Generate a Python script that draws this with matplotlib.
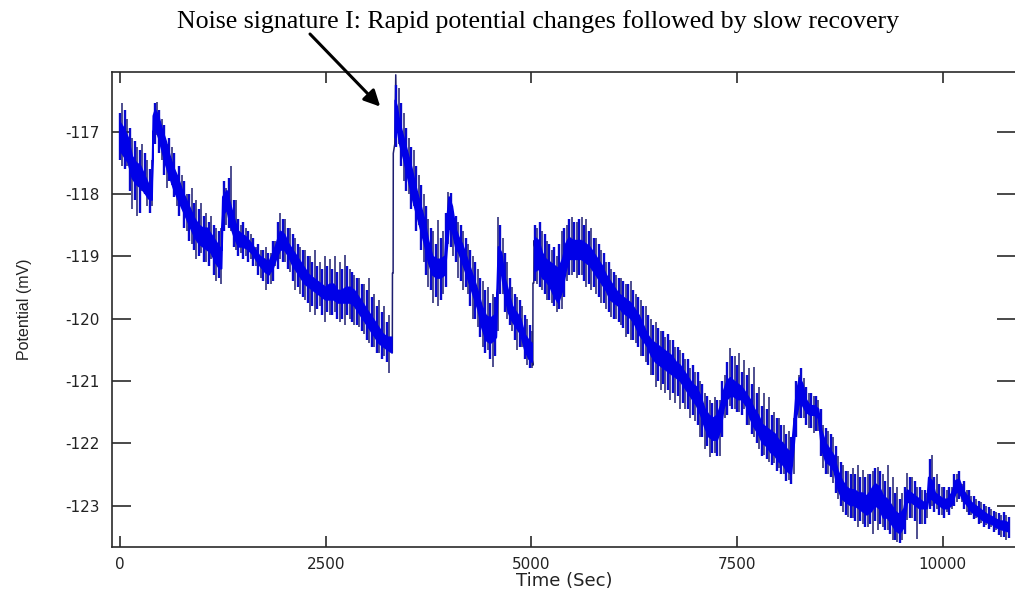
import numpy as np
import matplotlib
matplotlib.use("Agg")
import matplotlib.pyplot as plt

plt.rcParams["axes.unicode_minus"] = False

# ---------------------------------------------------------------------------
# Potential record: dense core band (knots) + individual noise excursions
# ---------------------------------------------------------------------------
band_t = [0, 50, 100, 150, 200, 250, 300, 350, 390, 405, 430, 470, 510, 560, 610,
          660, 710, 760, 810, 860, 910, 960, 1010, 1060, 1110, 1160, 1210, 1235,
          1250, 1300, 1340, 1390, 1440, 1490, 1540, 1600, 1650, 1700, 1760, 1810,
          1860, 1900, 1950, 2000, 2050, 2100, 2150, 2200, 2250, 2300, 2350, 2400,
          2450, 2500, 2550, 2600, 2650, 2700, 2750, 2800, 2850, 2900, 2950, 3000,
          3050, 3100, 3150, 3200, 3250, 3305, 3320, 3345, 3370, 3400, 3450, 3500,
          3550, 3600, 3650, 3700, 3750, 3800, 3850, 3900, 3950, 3975, 4000, 4040,
          4080, 4120, 4160, 4200, 4250, 4300, 4350, 4400, 4450, 4500, 4550, 4575,
          4600, 4640, 4680, 4720, 4770, 4820, 4870, 4920, 4970, 5010, 5025, 5045,
          5090, 5135, 5180, 5230, 5280, 5330, 5380, 5420, 5460, 5510, 5560, 5610,
          5660, 5710, 5760, 5810, 5860, 5910, 5960, 6010, 6060, 6110, 6160, 6210,
          6260, 6310, 6360, 6410, 6460, 6510, 6560, 6610, 6660, 6710, 6760, 6810,
          6860, 6910, 6960, 7010, 7060, 7110, 7160, 7210, 7260, 7300, 7340, 7380,
          7420, 7460, 7510, 7560, 7610, 7660, 7710, 7760, 7810, 7860, 7910, 7960,
          8010, 8060, 8110, 8160, 8190, 8220, 8260, 8300, 8340, 8390, 8440, 8490,
          8530, 8580, 8630, 8680, 8730, 8780, 8830, 8880, 8930, 8980, 9030, 9080,
          9130, 9180, 9230, 9280, 9330, 9380, 9430, 9480, 9530, 9570, 9620, 9670,
          9720, 9770, 9810, 9830, 9870, 9910, 9960, 10010, 10060, 10110, 10160,
          10200, 10250, 10300, 10350, 10400, 10450, 10500, 10550, 10600, 10650,
          10700, 10750, 10800]

band_hi = [-116.85, -116.95, -117.10, -117.40, -117.50, -117.55, -117.70, -117.85,
           -117.90, -116.75, -116.65, -116.75, -116.95, -117.15, -117.40, -117.60,
           -117.75, -117.95, -118.10, -118.25, -118.40, -118.50, -118.55, -118.55,
           -118.65, -118.75, -118.85, -118.90, -118.05, -117.95, -118.15, -118.40,
           -118.60, -118.65, -118.70, -118.80, -118.90, -119.00, -119.05, -119.10,
           -118.95, -118.80, -118.60, -118.65, -118.80, -118.90, -119.00, -119.10,
           -119.20, -119.30, -119.35, -119.40, -119.45, -119.50, -119.45, -119.45,
           -119.55, -119.55, -119.50, -119.50, -119.55, -119.65, -119.75, -119.85,
           -119.95, -120.05, -120.15, -120.25, -120.30, -120.30, np.nan, -116.50,
           -116.60, -116.85, -117.10, -117.35, -117.60, -117.90, -118.15, -118.40,
           -118.75, -119.00, -119.05, -119.05, -119.00, -118.40, -118.05, -118.20,
           -118.55, -118.70, -118.80, -118.95, -119.15, -119.35, -119.55, -119.80,
           -119.95, -120.00, -119.95, -119.90, -118.85, -118.95, -119.35, -119.55,
           -119.80, -119.90, -120.00, -120.25, -120.35, -120.40, np.nan, -118.70,
           -118.75, -118.95, -119.05, -119.10, -119.15, -119.20, -119.05, -118.80,
           -118.70, -118.75, -118.75, -118.75, -118.80, -118.85, -118.95, -119.05,
           -119.15, -119.30, -119.40, -119.50, -119.60, -119.65, -119.70, -119.75,
           -119.85, -119.95, -120.10, -120.25, -120.35, -120.40, -120.45, -120.50,
           -120.55, -120.60, -120.70, -120.75, -120.85, -120.95, -121.05, -121.10,
           -121.25, -121.45, -121.55, -121.60, -121.55, -121.40, -121.15, -121.00,
           -120.95, -121.00, -121.05, -121.10, -121.20, -121.30, -121.45, -121.55,
           -121.70, -121.75, -121.80, -121.85, -121.95, -122.00, -122.10, -122.15,
           -121.70, -121.20, -120.95, -121.05, -121.30, -121.40, -121.40, -121.45,
           -121.80, -122.00, -122.10, -122.20, -122.45, -122.60, -122.70, -122.75,
           -122.75, -122.80, -122.80, -122.85, -122.75, -122.65, -122.70, -122.85,
           -122.90, -123.00, -123.10, -123.15, -123.05, -122.75, -122.80, -122.85,
           -122.90, -122.95, -122.95, -122.55, -122.60, -122.80, -122.85, -122.90,
           -122.90, -122.80, -122.60, -122.58, -122.75, -122.85, -122.95, -123.00,
           -123.05, -123.10, -123.15, -123.18, -123.22, -123.25, -123.25, -123.28]

band_lo = [-117.30, -117.40, -117.50, -117.75, -117.85, -117.90, -117.98, -118.08,
           -118.10, -117.00, -116.95, -117.10, -117.30, -117.55, -117.75, -117.95,
           -118.10, -118.25, -118.40, -118.55, -118.70, -118.80, -118.85, -118.90,
           -118.95, -119.10, -119.20, -119.20, -118.35, -118.25, -118.50, -118.70,
           -118.85, -118.85, -118.88, -118.95, -119.05, -119.15, -119.25, -119.30,
           -119.20, -119.05, -118.90, -118.90, -119.00, -119.15, -119.25, -119.35,
           -119.45, -119.50, -119.55, -119.60, -119.65, -119.70, -119.70, -119.70,
           -119.75, -119.75, -119.75, -119.75, -119.80, -119.90, -120.00, -120.10,
           -120.20, -120.30, -120.40, -120.45, -120.50, -120.55, np.nan, -117.10,
           -116.95, -117.20, -117.45, -117.75, -118.05, -118.30, -118.55, -118.80,
           -119.10, -119.30, -119.35, -119.35, -119.30, -118.90, -118.55, -118.60,
           -118.85, -118.95, -119.10, -119.25, -119.45, -119.65, -119.85, -120.15,
           -120.35, -120.40, -120.35, -120.30, -119.20, -119.30, -119.65, -119.90,
           -120.05, -120.15, -120.25, -120.50, -120.65, -120.70, np.nan, -119.25,
           -119.20, -119.35, -119.40, -119.50, -119.65, -119.75, -119.55, -119.25,
           -119.05, -119.05, -119.05, -119.05, -119.10, -119.15, -119.25, -119.35,
           -119.45, -119.55, -119.70, -119.75, -119.80, -119.90, -119.95, -120.00,
           -120.10, -120.25, -120.35, -120.45, -120.60, -120.70, -120.75, -120.80,
           -120.85, -120.90, -120.95, -121.00, -121.10, -121.20, -121.30, -121.40,
           -121.55, -121.75, -121.90, -121.95, -121.95, -121.80, -121.45, -121.30,
           -121.25, -121.25, -121.30, -121.30, -121.40, -121.60, -121.75, -121.85,
           -122.00, -122.05, -122.15, -122.20, -122.30, -122.35, -122.45, -122.50,
           -122.10, -121.60, -121.35, -121.40, -121.50, -121.55, -121.55, -121.60,
           -122.10, -122.30, -122.35, -122.45, -122.75, -122.90, -122.95, -123.00,
           -123.00, -123.05, -123.10, -123.15, -123.10, -123.00, -123.05, -123.20,
           -123.20, -123.30, -123.40, -123.45, -123.35, -122.95, -122.95, -123.00,
           -123.05, -123.05, -123.05, -122.90, -122.90, -122.95, -123.00, -123.05,
           -123.05, -123.00, -122.80, -122.78, -122.92, -123.00, -123.10, -123.15,
           -123.20, -123.25, -123.28, -123.30, -123.35, -123.38, -123.40, -123.42]

# long excursions (thin dark strokes)
spike_t = [30, 90, 150, 210, 270, 330, 390, 450, 510, 570, 630, 690, 750, 810,
           870, 930, 990, 1050, 1110, 1170, 1230, 1290, 1350, 1410, 1470, 1530,
           1590, 1650, 1710, 1770, 1830, 1890, 1950, 2010, 2070, 2130, 2190, 2250,
           2310, 2370, 2430, 2490, 2550, 2610, 2670, 2730, 2790, 2850, 2910, 2970,
           3030, 3090, 3150, 3210, 3270, 3390, 3450, 3510, 3570, 3630, 3690, 3750,
           3810, 3870, 3930, 3990, 4050, 4110, 4170, 4230, 4290, 4350, 4410, 4470,
           4530, 4590, 4650, 4710, 4770, 4830, 4890, 4950, 5010, 5070, 5130, 5190,
           5250, 5310, 5370, 5430, 5490, 5550, 5610, 5670, 5730, 5790, 5850, 5910,
           5970, 6030, 6090, 6150, 6210, 6270, 6330, 6390, 6450, 6510, 6570, 6630,
           6690, 6750, 6810, 6870, 6930, 6990, 7050, 7110, 7170, 7230, 7290, 7350,
           7410, 7470, 7530, 7590, 7650, 7710, 7770, 7830, 7890, 7950, 8010, 8070,
           8130, 8190, 8250, 8310, 8370, 8430, 8490, 8550, 8610, 8670, 8730, 8790,
           8850, 8910, 8970, 9030, 9090, 9150, 9210, 9270, 9330, 9390, 9450, 9510,
           9570, 9630, 9690, 9750, 9810, 9870, 9930, 9990, 10050, 10110, 10170,
           10230, 10290, 10350, 10410, 10470, 10530, 10590, 10650, 10710, 10770]

spike_hi = [-116.55, -116.80, -117.10, -117.25, -117.20, -117.45, -117.45, -116.52,
            -116.80, -117.20, -117.25, -117.70, -117.70, -118.00, -117.90, -118.10,
            -118.15, -118.30, -118.35, -118.55, -118.55, -117.90, -117.55, -118.10,
            -118.50, -118.55, -118.65, -118.85, -118.90, -118.85, -118.95, -118.75,
            -118.30, -118.40, -118.55, -118.70, -118.85, -118.90, -119.00, -118.90,
            -119.10, -119.00, -119.05, -119.00, -119.10, -118.98, -119.20, -119.30,
            -119.35, -119.45, -119.35, -119.60, -119.70, -119.80, -119.95, -116.30,
            -116.70, -117.10, -117.30, -117.70, -118.00, -118.40, -118.60, -118.42,
            -118.60, -117.97, -118.30, -118.45, -118.60, -118.80, -119.00, -119.20,
            -119.40, -119.50, -119.60, -118.37, -118.70, -119.10, -119.50, -119.65,
            -119.80, -120.00, -120.20, -118.55, -118.60, -118.75, -118.90, -119.00,
            -118.60, -118.50, -118.37, -118.45, -118.37, -118.40, -118.55, -118.70,
            -118.90, -119.10, -119.20, -119.30, -119.35, -119.45, -119.40, -119.60,
            -119.70, -119.80, -120.00, -120.05, -120.20, -120.30, -120.35, -120.45,
            -120.50, -120.65, -120.80, -120.85, -121.00, -121.20, -121.30, -121.26,
            -121.30, -120.90, -120.47, -120.60, -120.55, -120.67, -120.80, -120.78,
            -121.10, -121.20, -121.26, -121.50, -121.60, -121.70, -121.80, -121.60,
            -120.90, -120.95, -121.20, -121.25, -121.30, -121.70, -121.80, -121.90,
            -122.20, -122.35, -122.45, -122.40, -122.35, -122.43, -122.50, -122.45,
            -122.38, -122.50, -122.35, -122.55, -122.70, -122.80, -122.48, -122.55,
            -122.70, -122.75, -122.80, -122.19, -122.50, -122.70, -122.75, -122.70,
            -122.50, -122.65, -122.75, -122.85, -122.90, -122.95, -123.00, -123.05,
            -123.10, -123.15, -123.15]

spike_lo = [-117.55, -117.55, -118.25, -118.35, -117.95, -118.20, -118.20, -117.05,
            -117.45, -117.90, -117.85, -118.20, -118.15, -118.60, -118.80, -119.05,
            -118.95, -119.10, -119.05, -119.40, -119.45, -118.50, -118.60, -118.90,
            -118.95, -119.00, -119.05, -119.15, -119.35, -119.55, -119.45, -119.15,
            -119.05, -119.10, -119.25, -119.55, -119.60, -119.70, -119.90, -119.95,
            -119.80, -120.05, -119.95, -119.90, -120.05, -120.10, -120.00, -120.10,
            -120.13, -120.25, -120.40, -120.45, -120.55, -120.60, -120.87, -117.20,
            -117.80, -118.00, -118.20, -118.50, -119.10, -119.50, -119.75, -119.80,
            -119.60, -118.80, -119.00, -119.35, -119.55, -119.60, -120.00, -120.13,
            -120.45, -120.50, -120.77, -120.20, -119.60, -120.00, -120.20, -120.50,
            -120.45, -120.75, -120.80, -119.45, -119.55, -119.70, -119.75, -119.90,
            -119.85, -119.40, -119.30, -119.35, -119.30, -119.50, -119.55, -119.60,
            -119.75, -119.85, -119.97, -120.00, -120.10, -120.30, -120.35, -120.40,
            -120.60, -120.70, -120.90, -121.10, -121.15, -121.20, -121.30, -121.35,
            -121.45, -121.45, -121.60, -121.65, -121.90, -122.10, -122.22, -122.15,
            -122.20, -121.60, -121.40, -121.45, -121.50, -121.45, -121.70, -121.90,
            -122.10, -122.19, -122.30, -122.32, -122.40, -122.50, -122.59, -122.50,
            -121.60, -121.60, -121.75, -121.84, -121.80, -122.40, -122.50, -122.64,
            -122.90, -123.10, -123.19, -123.20, -123.35, -123.30, -123.35, -123.45,
            -123.40, -123.35, -123.40, -123.55, -123.59, -123.55, -123.24, -123.20,
            -123.53, -123.30, -123.20, -123.00, -123.05, -123.15, -123.10, -123.05,
            -122.95, -122.95, -123.10, -123.15, -123.20, -123.28, -123.32, -123.35,
            -123.40, -123.50, -123.56]

# shorter excursions between the long ones
burst_t = [t for t in range(0, 10801, 60) if t != 3300]

burst_hi = [-116.70, -116.65, -116.95, -117.15, -117.30, -117.35, -117.60, -116.55, -116.65, -116.90,
            -117.10, -117.35, -117.55, -117.80, -118.00, -118.15, -118.25, -118.35, -118.45, -118.50,
            -118.60, -117.80, -117.75, -118.10, -118.40, -118.45, -118.60, -118.70, -118.80, -118.90,
            -118.95, -118.75, -118.45, -118.40, -118.55, -118.65, -118.80, -118.90, -119.00, -119.10,
            -119.15, -119.20, -119.15, -119.20, -119.25, -119.20, -119.15, -119.25, -119.35, -119.45,
            -119.55, -119.65, -119.80, -119.90, -120.05, -116.25, -116.55, -116.95, -117.25, -117.55,
            -117.85, -118.20, -118.55, -118.80, -118.70, -118.30, -117.98, -118.35, -118.50, -118.70,
            -118.90, -119.10, -119.35, -119.55, -119.75, -119.65, -118.50, -118.95, -119.35, -119.60,
            -119.70, -119.95, -120.10, -118.50, -118.45, -118.65, -118.80, -118.85, -118.80, -118.55,
            -118.40, -118.45, -118.40, -118.50, -118.60, -118.70, -118.80, -118.95, -119.10, -119.25,
            -119.35, -119.40, -119.45, -119.55, -119.65, -119.80, -119.95, -120.10, -120.15, -120.20,
            -120.25, -120.35, -120.45, -120.55, -120.65, -120.75, -120.85, -121.05, -121.25, -121.35,
            -121.30, -121.00, -120.70, -120.60, -120.75, -120.85, -120.90, -121.05, -121.20, -121.40,
            -121.45, -121.55, -121.60, -121.70, -121.85, -121.90, -121.00, -120.80, -121.10, -121.20,
            -121.25, -121.45, -121.75, -121.85, -122.05, -122.30, -122.45, -122.50, -122.50, -122.55,
            -122.55, -122.50, -122.40, -122.45, -122.60, -122.70, -122.80, -122.90, -122.70, -122.55,
            -122.60, -122.70, -122.75, -122.25, -122.55, -122.65, -122.70, -122.70, -122.50, -122.45,
            -122.60, -122.75, -122.85, -122.92, -122.98, -123.02, -123.08, -123.12, -123.10, -123.18]

burst_lo = [-117.45, -117.60, -117.95, -118.10, -118.30, -118.00, -118.30, -117.20, -117.35, -117.70,
            -117.80, -118.05, -118.35, -118.55, -118.75, -118.90, -119.00, -119.10, -119.15, -119.30,
            -119.35, -118.60, -118.55, -118.85, -119.00, -119.05, -119.10, -119.15, -119.30, -119.40,
            -119.45, -119.40, -119.20, -119.10, -119.20, -119.40, -119.50, -119.65, -119.75, -119.80,
            -119.85, -119.95, -119.90, -119.95, -120.00, -120.00, -119.95, -120.05, -120.10, -120.20,
            -120.35, -120.45, -120.55, -120.65, -120.70, -117.25, -117.55, -117.95, -118.25, -118.60,
            -118.90, -119.30, -119.55, -119.65, -119.70, -119.50, -118.85, -119.10, -119.40, -119.50,
            -119.80, -120.00, -120.30, -120.55, -120.65, -120.60, -119.60, -119.90, -120.10, -120.35,
            -120.45, -120.65, -120.80, -119.40, -119.50, -119.60, -119.70, -119.80, -119.85, -119.65,
            -119.30, -119.25, -119.30, -119.40, -119.45, -119.50, -119.65, -119.75, -119.90, -120.00,
            -120.05, -120.15, -120.25, -120.35, -120.45, -120.60, -120.75, -120.90, -121.00, -121.05,
            -121.15, -121.20, -121.25, -121.35, -121.45, -121.55, -121.70, -121.90, -122.05, -122.15,
            -122.20, -121.90, -121.55, -121.45, -121.50, -121.55, -121.70, -121.85, -122.00, -122.20,
            -122.25, -122.35, -122.45, -122.50, -122.60, -122.65, -121.90, -121.60, -121.70, -121.75,
            -121.80, -122.20, -122.50, -122.55, -122.80, -123.00, -123.15, -123.20, -123.25, -123.25,
            -123.35, -123.30, -123.25, -123.30, -123.40, -123.45, -123.55, -123.60, -123.45, -123.20,
            -123.25, -123.30, -123.30, -123.05, -123.10, -123.15, -123.20, -123.15, -123.00, -122.90,
            -123.05, -123.15, -123.22, -123.30, -123.35, -123.38, -123.42, -123.48, -123.50, -123.52]

# abrupt transitions drawn as a single thin trace
jump1_t = [3300, 3310, 3312, 3320, 3322, 3340, 3352, 3362]
jump1_v = [-120.50, -120.55, -119.27, -119.27, -117.35, -117.20, -116.09, -116.90]
jump2_t = [5005, 5018, 5020, 5030, 5033, 5045]
jump2_v = [-120.60, -120.75, -119.43, -119.43, -118.75, -118.90]

x_ticks = [0, 2500, 5000, 7500, 10000]
y_ticks = [-117, -118, -119, -120, -121, -122, -123]

annotation = "Noise signature I: Rapid potential changes followed by slow recovery"
arrow_tip = (3163, -116.60)

# ---------------------------------------------------------------------------
W, H = 1015, 598
fig = plt.figure(figsize=(W / 100, H / 100), dpi=100)
fig.patch.set_facecolor("white")
ax = fig.add_axes([112 / W, (H - 547.3) / H, (1016 - 112) / W, (547.3 - 71.7) / H])

band_color = "#0000e8"
edge_color = "#1e1e70"

ax.vlines(spike_t, spike_lo, spike_hi, color=edge_color, lw=1.1, zorder=2)
ax.vlines(burst_t, burst_lo, burst_hi, color="#0808d0", lw=1.7, zorder=2.5)
ax.fill_between(band_t, band_lo, band_hi, color=band_color, lw=1.2,
                edgecolor=band_color, zorder=3)
ax.plot(jump1_t, jump1_v, color=edge_color, lw=1.1, zorder=2)
ax.plot(jump2_t, jump2_v, color=edge_color, lw=1.1, zorder=2)

ax.set_xlim(-97, 10891)
ax.set_ylim(-123.67, -116.04)
ax.set_xticks(x_ticks)
ax.set_xticklabels([str(v) for v in x_ticks])
ax.set_yticks(y_ticks)
ax.set_yticklabels([str(v) for v in y_ticks])

for s in ax.spines.values():
    s.set_color("#2a2a2a")
    s.set_linewidth(1.2)

ax.tick_params(axis="x", direction="in", length=8, width=1.2, color="#2a2a2a",
               top=True, bottom=True, labelsize=11, pad=7, labelcolor="#222222")
ax.tick_params(axis="y", direction="in", length=14, width=1.2, color="#2a2a2a",
               left=True, right=True, labelsize=11, pad=9, labelcolor="#222222")
for lab in ax.get_xticklabels() + ax.get_yticklabels():
    lab.set_family("DejaVu Sans")

ax.set_xlabel("Time (Sec)", fontsize=13, family="DejaVu Sans", color="#222222")
ax.xaxis.set_label_coords(0.5, -0.052)
ax.set_ylabel("Potential (mV)", fontsize=11.5, family="Liberation Sans", color="#222222")
ax.yaxis.set_label_coords(-0.0885, 0.5)

fig.text(538 / W, 1 - 22 / H, annotation, ha="center", va="center",
         family="Liberation Serif", fontsize=18.6, color="black")

ax.annotate("", xy=arrow_tip, xycoords="data",
            xytext=(310 / W, 1 - 34 / H), textcoords="figure fraction",
            arrowprops=dict(arrowstyle="-|>", color="black", lw=2.2,
                            mutation_scale=24, shrinkA=0, shrinkB=0),
            annotation_clip=False)

fig.savefig("out.png", dpi=100, facecolor="white")
